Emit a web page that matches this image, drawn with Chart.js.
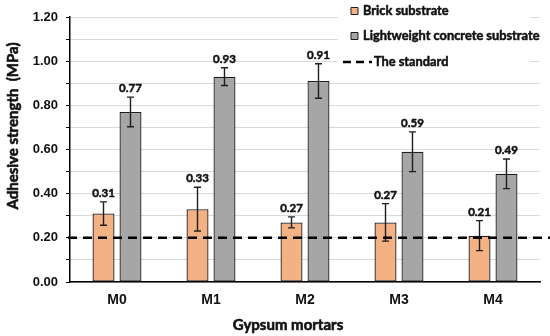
<!DOCTYPE html>
<html><head><meta charset="utf-8">
<script src="https://cdn.jsdelivr.net/npm/chart.js@4"></script>
<style>html,body{margin:0;padding:0;background:#fff}canvas{display:block}</style>
</head><body>
<canvas id="c" width="550" height="336"></canvas>
<script>
const categories = ['M0', 'M1', 'M2', 'M3', 'M4'];
const brickValues = [0.31, 0.33, 0.27, 0.27, 0.21];
const brickErrors = [0.053, 0.099, 0.025, 0.085, 0.068];
const concreteValues = [0.77, 0.93, 0.91, 0.59, 0.49];
const concreteErrors = [0.067, 0.040, 0.078, 0.090, 0.067];
const standardValue = 0.20;
const seriesLabels = ['Brick substrate', 'Lightweight concrete substrate', 'The standard'];
const yTitle = 'Adhesive strength  (MPa)';
const xTitle = 'Gypsum mortars';

const brickColor = '#F4B183';
const concreteColor = '#A6A6A6';
const edge = '#1e1e1e';
const calFont = 'Lato, "Open Sans", sans-serif';

const errorsByDataset = [brickErrors, concreteErrors];

function boldText(ctx, text, x, y, w) {
  ctx.lineWidth = w; ctx.strokeStyle = ctx.fillStyle; ctx.lineJoin = 'round';
  ctx.strokeText(text, x, y);
  ctx.fillText(text, x, y);
}

const overlayPlugin = {
  id: 'overlay',
  afterDatasetsDraw(chart) {
    const ctx = chart.ctx;
    const y = chart.scales.y;
    const area = chart.chartArea;
    chart.data.datasets.forEach((ds, di) => {
      const meta = chart.getDatasetMeta(di);
      meta.data.forEach((bar, i) => {
        const v = ds.data[i], e = errorsByDataset[di][i];
        const x = bar.x;
        const yt = y.getPixelForValue(v + e), yb = y.getPixelForValue(v - e);
        ctx.save();
        ctx.strokeStyle = edge; ctx.lineWidth = 1.4;
        ctx.beginPath();
        ctx.moveTo(x, yt); ctx.lineTo(x, yb);
        ctx.moveTo(x - 3.5, yt); ctx.lineTo(x + 3.5, yt);
        ctx.moveTo(x - 3.5, yb); ctx.lineTo(x + 3.5, yb);
        ctx.stroke();
        ctx.fillStyle = '#111';
        ctx.font = 'bold 11.5px ' + calFont;
        ctx.textAlign = 'center'; ctx.textBaseline = 'bottom';
        boldText(ctx, v.toFixed(2), x, yt - 3, 0.5);
        ctx.restore();
      });
    });
    const ys = y.getPixelForValue(standardValue);
    ctx.save();
    ctx.strokeStyle = '#000'; ctx.lineWidth = 2.5; ctx.setLineDash([9, 6]);
    ctx.beginPath(); ctx.moveTo(area.left - 2, ys); ctx.lineTo(chart.width, ys); ctx.stroke();
    ctx.restore();
  },
  afterDraw(chart) {
    const ctx = chart.ctx;
    ctx.save();
    ctx.fillStyle = '#111';
    ctx.font = 'bold 15px ' + calFont;
    ctx.textAlign = 'center'; ctx.textBaseline = 'middle';
    boldText(ctx, xTitle, 288, 325, 0.6);
    ctx.save();
    ctx.translate(13, 126); ctx.rotate(-Math.PI / 2);
    boldText(ctx, yTitle, 0, 0, 0.6);
    ctx.restore();
    // legend
    ctx.fillStyle = '#fff';
    ctx.fillRect(338, 0, 192, 72);
    const rows = [11, 36, 62];
    ctx.font = 'bold 12.8px ' + calFont;
    ctx.textAlign = 'left'; ctx.textBaseline = 'middle';
    [brickColor, concreteColor].forEach((c, i) => {
      ctx.fillStyle = c; ctx.fillRect(351, rows[i] - 3.5, 7, 7);
      ctx.strokeStyle = edge; ctx.lineWidth = 1; ctx.strokeRect(351, rows[i] - 3.5, 7, 7);
      ctx.fillStyle = '#111'; boldText(ctx, seriesLabels[i], 363, rows[i], 0.5);
    });
    ctx.strokeStyle = '#000'; ctx.lineWidth = 2.3; ctx.setLineDash([8, 5]);
    ctx.beginPath(); ctx.moveTo(343, rows[2]); ctx.lineTo(372, rows[2]); ctx.stroke();
    ctx.setLineDash([]);
    ctx.fillStyle = '#111'; boldText(ctx, seriesLabels[2], 374, rows[2], 0.5);
    ctx.restore();
  }
};

new Chart(document.getElementById('c'), {
  type: 'bar',
  data: {
    labels: categories,
    datasets: [
      { label: seriesLabels[0], data: brickValues, backgroundColor: brickColor, borderColor: edge, borderWidth: 1.3, borderSkipped: false },
      { label: seriesLabels[1], data: concreteValues, backgroundColor: concreteColor, borderColor: edge, borderWidth: 1.3, borderSkipped: false }
    ]
  },
  options: {
    responsive: false,
    devicePixelRatio: 1,
    animation: false,
    datasets: { bar: { categoryPercentage: 0.574, barPercentage: 0.815 } },
    layout: { padding: { left: 0, right: 10, top: 17, bottom: 0 } },
    plugins: { legend: { display: false }, tooltip: { enabled: false } },
    scales: {
      x: {
        grid: { display: false, drawTicks: false },
        border: { color: '#000', width: 1.5 },
        ticks: { color: '#111', font: { family: '"Liberation Sans", Arial, sans-serif', weight: 'bold', size: 14 }, padding: 10 },
        afterFit(s) { s.height = 54; }
      },
      y: {
        min: 0, max: 1.2,
        grid: { color: '#d9d9d9', lineWidth: 1, tickColor: '#000', tickLength: 4 },
        border: { color: '#000', width: 1.5 },
        ticks: {
          stepSize: 0.1, autoSkip: false, padding: 8, color: '#111',
          font: { family: '"Liberation Sans", Arial, sans-serif', weight: 'bold', size: 13 },
          callback(v) { return Math.round(v * 10) % 2 === 0 ? v.toFixed(2) : ''; }
        },
        afterFit(s) { s.width = 70; }
      }
    }
  },
  plugins: [overlayPlugin]
});
</script>
</body></html>
